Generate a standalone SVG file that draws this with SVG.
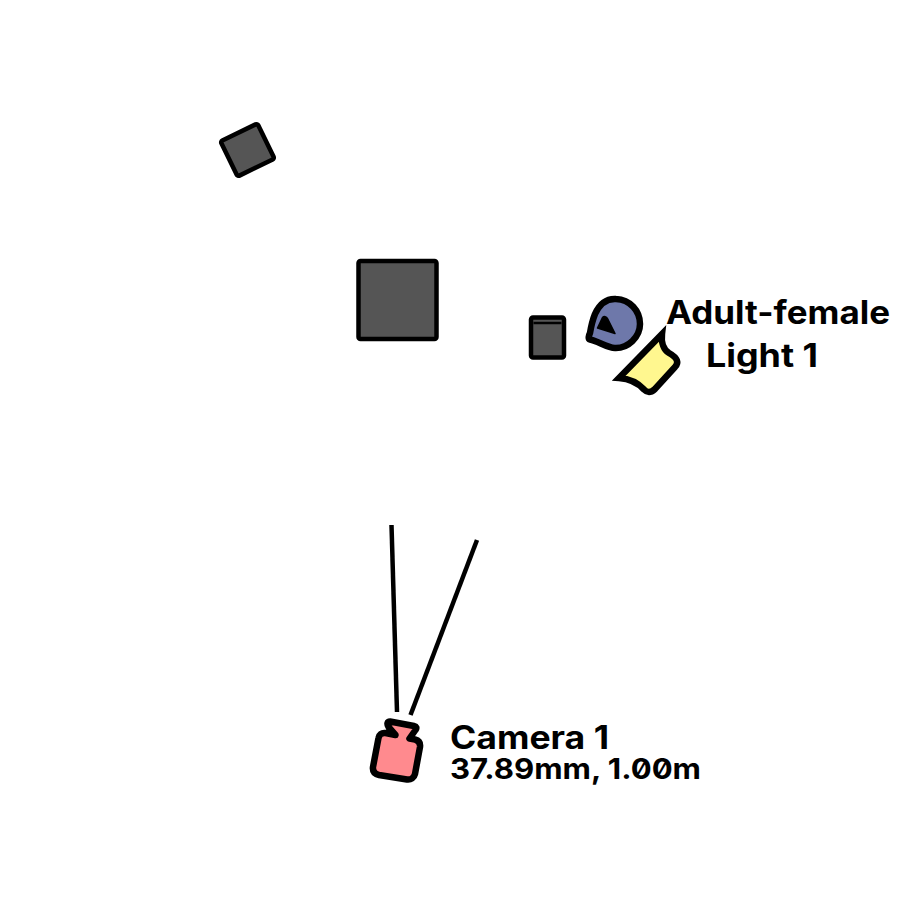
<svg xmlns="http://www.w3.org/2000/svg" width="900" height="900" viewBox="0 0 900 900">
<style>
.prop{fill:#555555;stroke:#000;stroke-width:4.500;stroke-linejoin:round}
.outline{stroke:#000;stroke-width:6.500;stroke-linejoin:round}
.fov{fill:none;stroke:#000;stroke-width:4.500}
text{font-family:"Inter","Noto Sans",sans-serif;font-weight:700;fill:#000;font-feature-settings:"zero"}
</style>
<rect width="900" height="900" fill="#fff"/>
<g id="prop-small-rotated"><rect class="prop" x="227" y="130.500" width="41" height="39" rx="2" transform="rotate(-26 247.500 150)"/></g>
<g id="prop-large"><rect class="prop" x="358.500" y="261" width="78" height="78" rx="2"/></g>
<g id="prop-box"><rect class="prop" x="531" y="317.500" width="33" height="40" rx="2"/><path d="M533.500 323H561.500" stroke="#000" stroke-width="2.500"/></g>
<g id="adult-female">
<path class="outline" fill="#6e78aa" d="M590 333C591 327 593 319 595 314C600 303 608 298.500 616 299C630 299.500 640 311 640 324C640 337 628 348.500 615 348C607 348 598 341 590 339.500C588 339 588.500 336 590 333Z"/>
<path d="M602.500 317.500C604 316 606.500 316.500 607.500 318.500L615 333.500L597.500 328Z" fill="#000" stroke="#000" stroke-width="1.500" stroke-linejoin="round"/>
<text x="666" y="324" font-size="32" textLength="224" lengthAdjust="spacingAndGlyphs">Adult-female</text>
</g>
<g id="light-1">
<path class="outline" style="stroke-linejoin:miter;stroke-miterlimit:6" fill="#fff78f" d="M662 334C661 343 664 350 669 353C678 358 679 363 675 367L655 389C650 393.500 647 392.500 644 389.500C639 384 632 379 619 378Z"/>
<text x="706" y="367" font-size="32" textLength="112" lengthAdjust="spacingAndGlyphs">Light 1</text>
</g>
<g id="camera-1">
<path class="outline" fill="#ff8a8e" d="M390 721.500L414 726C416.500 726.500 417 728 415.500 730L409.500 738.500L415 739.500C419 740.500 420.500 743 420 747L415 774C414 778 411 780 407 779.500L379 775C374.500 774 372.500 771 373 767L378.500 738C379 734.500 381.500 732.500 385.500 733L395.500 735L388.500 727C386.500 723.500 387.500 721.500 390 721.500Z"/>
<text x="450" y="749" font-size="32" textLength="159" lengthAdjust="spacingAndGlyphs">Camera 1</text>
<text x="450" y="778.500" font-size="29" textLength="251" lengthAdjust="spacingAndGlyphs">37.89mm, 1.00m</text>
</g>
<g id="connectors">
<path class="fov" d="M391.500 525L397 712"/>
<path class="fov" d="M477 540L410.500 715"/>
</g>
</svg>
